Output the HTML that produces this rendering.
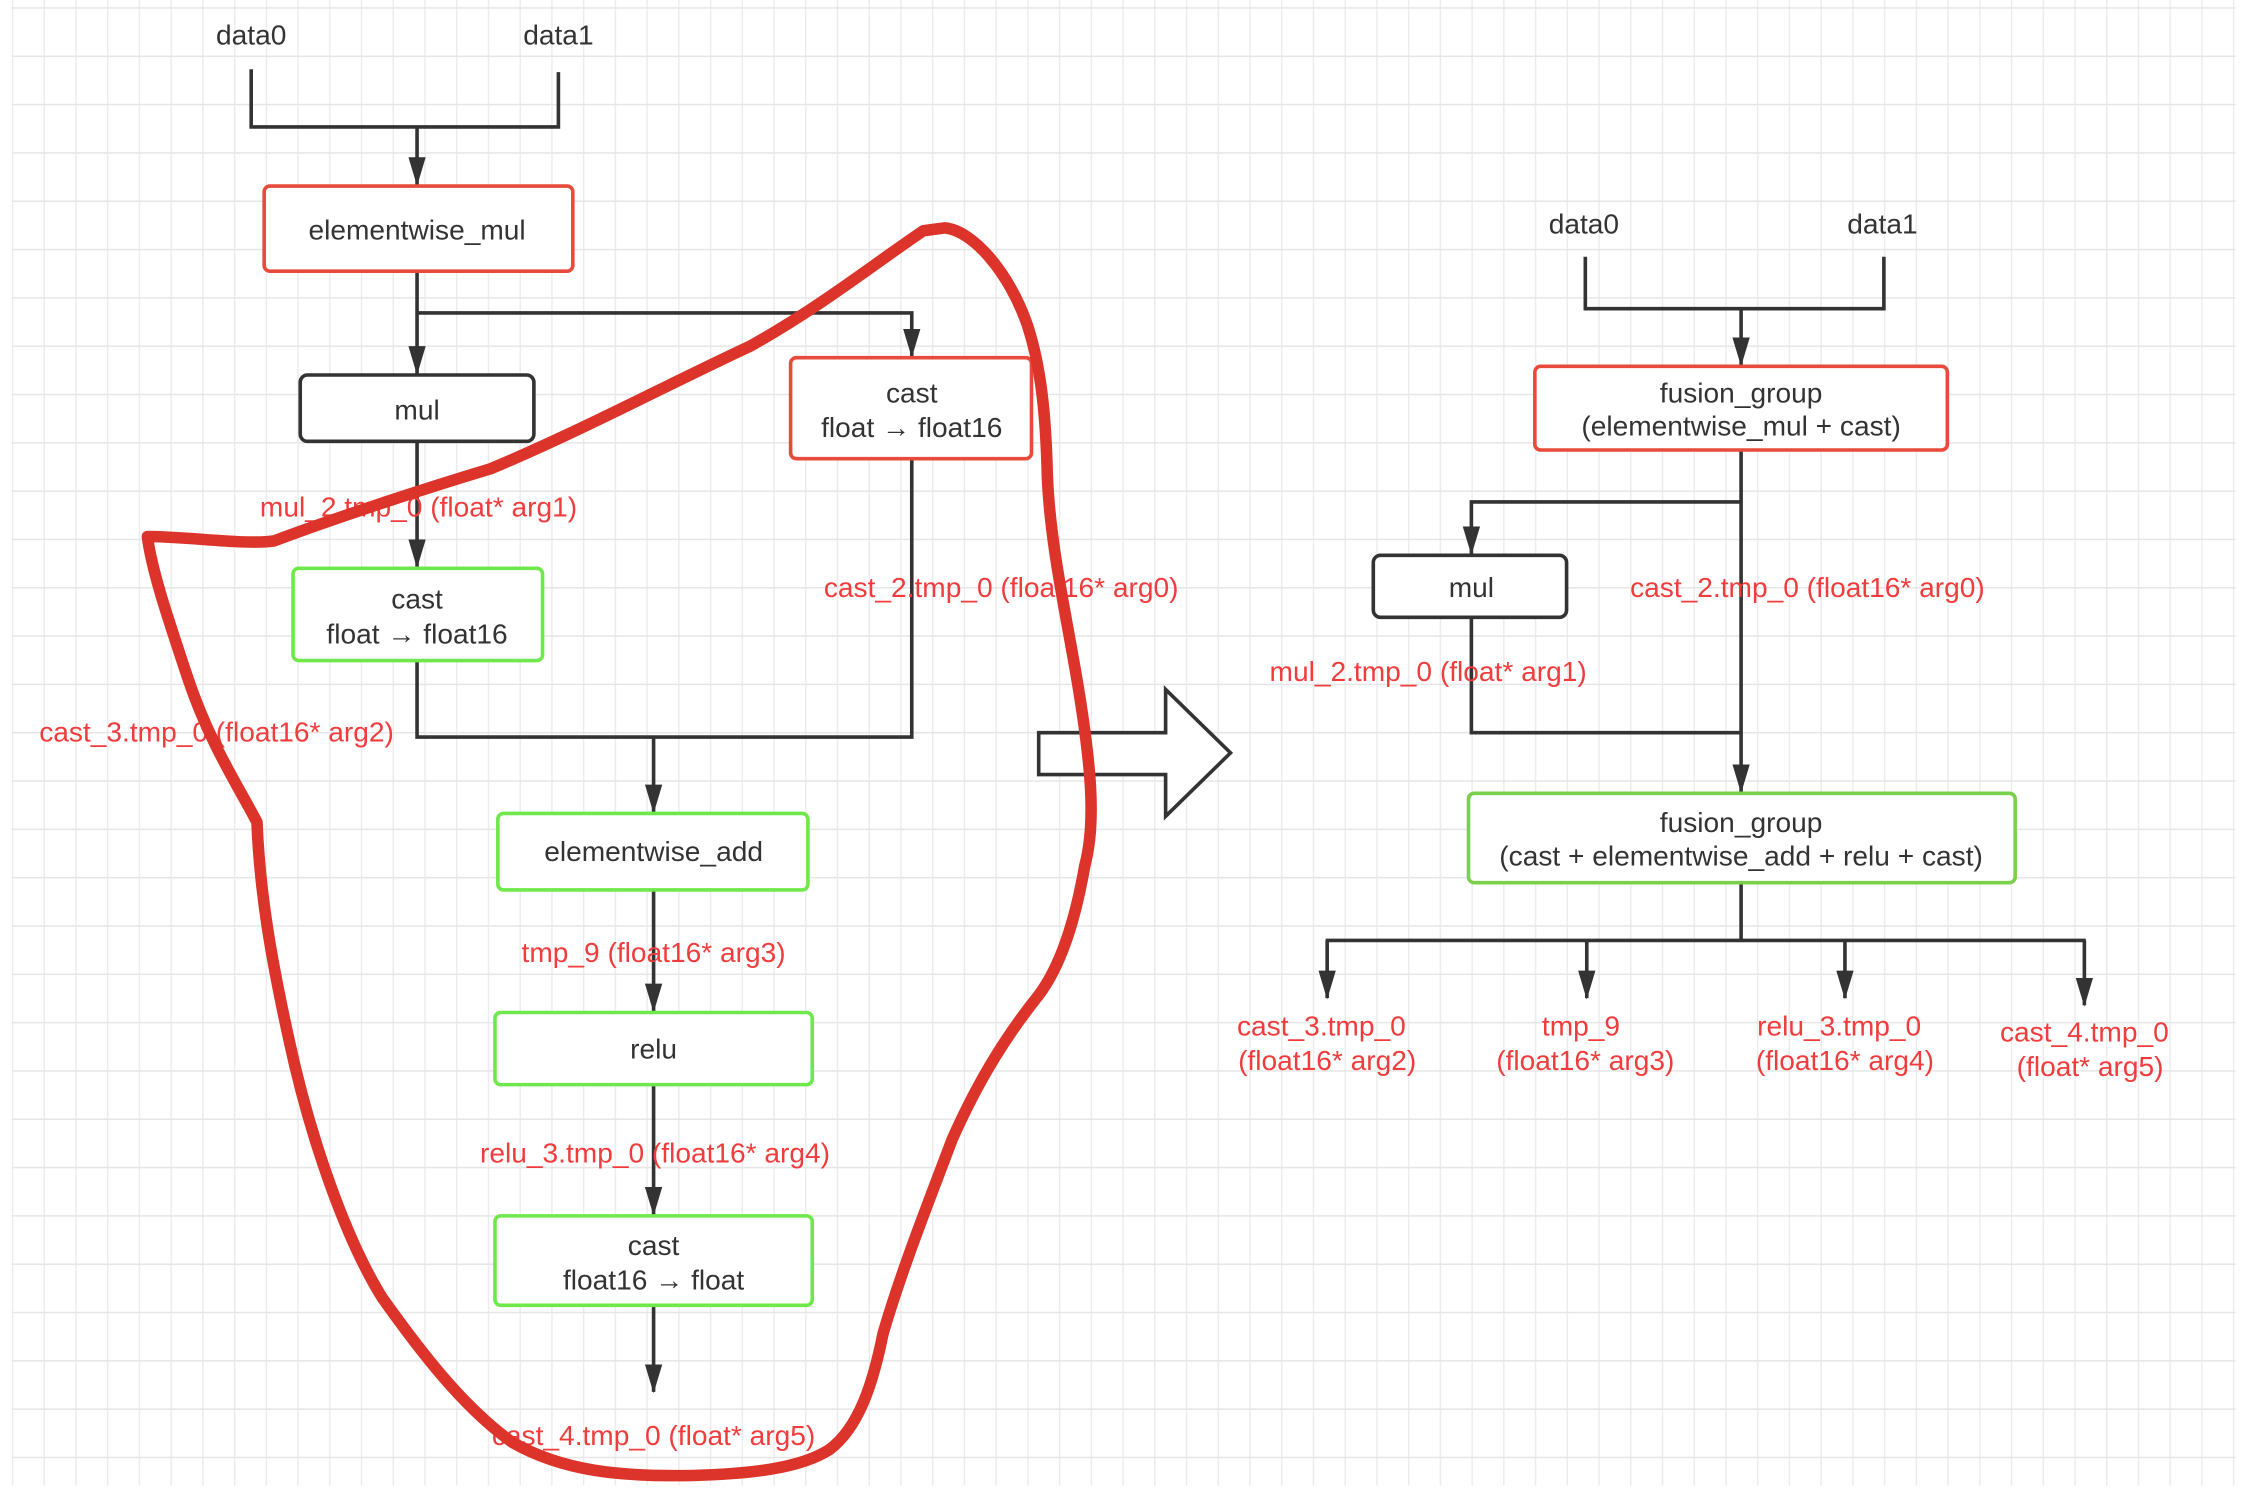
<!DOCTYPE html>
<html><head><meta charset="utf-8"><style>
html,body{margin:0;padding:0;background:#fff;}
svg{display:block;}
text{font-family:"Liberation Sans",sans-serif;font-size:19.5px;text-anchor:middle;}
.d{fill:#333;}
.r{fill:#f03c3c;}
</style></head><body>
<svg width="2262" height="1500" viewBox="0 0 1568 1040" xmlns="http://www.w3.org/2000/svg">
<defs>
<pattern id="gv" width="22" height="1040" patternUnits="userSpaceOnUse" x="8"><line x1="0.5" y1="0" x2="0.5" y2="1040" stroke="#ececec" stroke-width="1"/></pattern>
<pattern id="gh" width="1568" height="33.5" patternUnits="userSpaceOnUse" y="5"><line x1="0" y1="0.5" x2="1568" y2="0.5" stroke="#e6e6e6" stroke-width="1"/></pattern>
<marker id="a" markerWidth="20" markerHeight="12" refX="19" refY="6" orient="auto" markerUnits="userSpaceOnUse" viewBox="0 0 20 12"><path d="M0,0 L20,6 L0,12 Z" fill="#333"/></marker>
</defs>
<rect x="8" y="0" width="1542" height="1030" fill="url(#gv)"/>
<rect x="8" y="0" width="1542" height="1030" fill="url(#gh)"/>
<g stroke="#333" stroke-width="2.5" fill="none">
<polyline points="174,48 174,88 387,88 387,50"/>
<line x1="289" y1="88" x2="289" y2="128" marker-end="url(#a)"/>
<line x1="289" y1="188" x2="289" y2="259" marker-end="url(#a)"/>
<polyline points="289,217 632,217 632,247" marker-end="url(#a)"/>
<line x1="289" y1="306" x2="289" y2="393" marker-end="url(#a)"/>
<polyline points="289,458 289,511 632,511 632,318"/>
<line x1="453" y1="511" x2="453" y2="563" marker-end="url(#a)"/>
<line x1="453" y1="617" x2="453" y2="701" marker-end="url(#a)"/>
<line x1="453" y1="752" x2="453" y2="842" marker-end="url(#a)"/>
<line x1="453" y1="905" x2="453" y2="965" marker-end="url(#a)"/>
<polyline points="1099,178 1099,214 1306,214 1306,178"/>
<line x1="1207" y1="214" x2="1207" y2="253" marker-end="url(#a)"/>
<line x1="1207" y1="312" x2="1207" y2="549" marker-end="url(#a)"/>
<polyline points="1207,348 1020,348 1020,384" marker-end="url(#a)"/>
<polyline points="1020,428 1020,508 1207,508"/>
<line x1="1207" y1="612" x2="1207" y2="652"/>
<line x1="919" y1="652" x2="1446" y2="652"/>
<line x1="920" y1="652" x2="920" y2="692" marker-end="url(#a)"/>
<line x1="1100" y1="652" x2="1100" y2="692" marker-end="url(#a)"/>
<line x1="1279" y1="652" x2="1279" y2="692" marker-end="url(#a)"/>
<line x1="1445" y1="652" x2="1445" y2="697" marker-end="url(#a)"/>
<polygon points="720,508 808,508 808,478 853,522 808,566 808,537 720,537" fill="#fff"/>
</g>
<g stroke-width="2.5" fill="#fff">
<rect x="183" y="129" width="214" height="59" rx="4" stroke="#e84a3b"/>
<rect x="208" y="260" width="162" height="46" rx="5" stroke="#333"/>
<rect x="548" y="248" width="167" height="70" rx="4" stroke="#e84a3b"/>
<rect x="203" y="394" width="173" height="64" rx="4" stroke="#6ee84a"/>
<rect x="345" y="564" width="215" height="53" rx="4" stroke="#6ee84a"/>
<rect x="343" y="702" width="220" height="50" rx="4" stroke="#6ee84a"/>
<rect x="343" y="843" width="220" height="62" rx="4" stroke="#6ee84a"/>
<rect x="1064" y="254" width="286" height="58" rx="4" stroke="#e84a3b"/>
<rect x="952" y="385" width="134" height="43" rx="5" stroke="#333"/>
<rect x="1018" y="550" width="379" height="62" rx="4" stroke="#7ad04a"/>
</g>
<g class="d">
<text x="174" y="31">data0</text><text x="387" y="31">data1</text>
<text x="289" y="166">elementwise_mul</text>
<text x="289" y="291">mul</text>
<text x="632" y="279">cast</text><text x="632" y="303">float → float16</text>
<text x="289" y="422">cast</text><text x="289" y="446">float → float16</text>
<text x="453" y="597">elementwise_add</text>
<text x="453" y="734">relu</text>
<text x="453" y="870">cast</text><text x="453" y="894">float16 → float</text>
<text x="1098" y="162">data0</text><text x="1305" y="162">data1</text>
<text x="1207" y="279">fusion_group</text><text x="1207" y="302">(elementwise_mul + cast)</text>
<text x="1020" y="414">mul</text>
<text x="1207" y="577">fusion_group</text><text x="1207" y="600">(cast + elementwise_add + relu + cast)</text>
</g>
<g class="r">
<text x="290" y="358">mul_2.tmp_0 (float* arg1)</text>
<text x="694" y="414">cast_2.tmp_0 (float16* arg0)</text>
<text x="150" y="514">cast_3.tmp_0 (float16* arg2)</text>
<text x="453" y="667">tmp_9 (float16* arg3)</text>
<text x="454" y="806">relu_3.tmp_0 (float16* arg4)</text>
<text x="453" y="1002">cast_4.tmp_0 (float* arg5)</text>
<text x="1253" y="414">cast_2.tmp_0 (float16* arg0)</text>
<text x="990" y="472">mul_2.tmp_0 (float* arg1)</text>
<text x="916" y="718">cast_3.tmp_0</text><text x="920" y="742">(float16* arg2)</text>
<text x="1096" y="718">tmp_9</text><text x="1099" y="742">(float16* arg3)</text>
<text x="1275" y="718">relu_3.tmp_0</text><text x="1279" y="742">(float16* arg4)</text>
<text x="1445" y="722">cast_4.tmp_0</text><text x="1449" y="746">(float* arg5)</text>
</g>
<path d="M655,158 C675,160 700,190 712,225 C722,255 725,290 726,330 C728,380 740,430 748,480 C756,530 760,570 752,600 C745,640 735,670 720,690 C700,715 680,745 660,790 C645,830 625,880 612,925 C605,960 595,990 575,1005 C555,1018 520,1022 480,1023 C430,1024 390,1020 355,1000 C320,975 290,935 265,900 C240,860 215,790 200,720 C188,665 180,620 178,570 C165,545 145,515 130,470 C115,425 105,395 102,372 C130,372 170,378 190,375 C230,360 290,340 340,325 C400,300 460,268 520,240 C570,212 610,180 640,160 Z" fill="none" stroke="#dc342a" stroke-width="8" stroke-linejoin="round"/>
</svg>
</body></html>
